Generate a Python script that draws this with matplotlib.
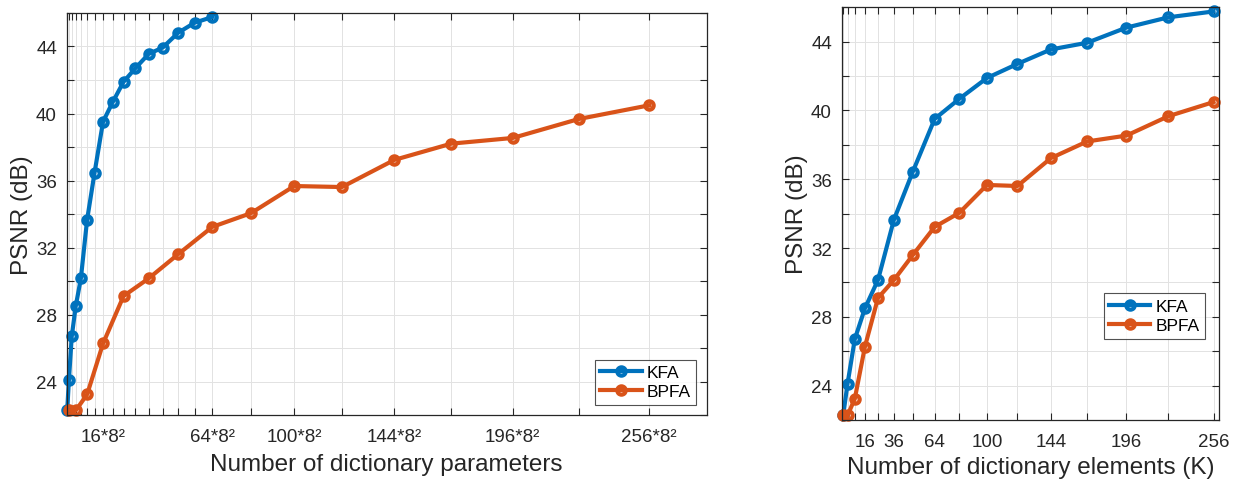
import matplotlib
matplotlib.use("Agg")
import matplotlib.pyplot as plt
import numpy as np

plt.rcParams['font.family'] = ['Liberation Sans', 'DejaVu Sans']

# dictionary sizes (number of atoms K)
K = [1, 4, 9, 16, 25, 36, 49, 64, 81, 100, 121, 144, 169, 196, 225, 256]
kfa_psnr = [22.27, 24.1, 26.7, 28.5, 30.15, 33.66, 36.45, 39.51, 40.68,
            41.89, 42.71, 43.55, 43.94, 44.82, 45.42, 45.76]
bpfa_psnr = [22.27, 22.27, 23.23, 26.27, 29.1, 30.15, 31.6, 33.23, 34.05,
             35.67, 35.61, 37.23, 38.2, 38.54, 39.67, 40.49]

# parameters per atom: KFA stores 2 factors of 8, BPFA a full 8x8 atom
kfa_per_atom = 16
bpfa_per_atom = 64

left_labels = ['16*8²', '64*8²', '100*8²', '144*8²', '196*8²', '256*8²']
left_label_K = [16, 64, 100, 144, 196, 256]
right_labels = ['16', '36', '64', '100', '144', '196', '256']
yticks = [24, 28, 32, 36, 40, 44]

blue = '#0072BD'
orange = '#D95319'
dark = '#262626'

fig = plt.figure(figsize=(12.34, 4.81), dpi=100)
ax1 = fig.add_axes([0.054, 0.1351, 0.5187, 0.8358])
ax2 = fig.add_axes([0.6821, 0.1247, 0.306, 0.858])

kfa_x = np.array(K) * kfa_per_atom
bpfa_x = np.array(K) * bpfa_per_atom

line_kw = dict(marker='o', lw=3, ms=6, mew=3, mfc='none', clip_on=False)


def style(ax, xt, xl, xlim):
    ax.set_xticks(xt)
    ax.set_xticklabels(xl)
    ax.set_xlim(*xlim)
    ax.set_ylim(22, 46)
    ax.set_yticks(np.arange(22, 47, 2))
    ax.set_yticklabels([str(v) if v in yticks else '' for v in np.arange(22, 47, 2)])
    ax.grid(True, color='#e2e2e2', lw=0.7)
    ax.set_axisbelow(True)
    ax.tick_params(direction='in', top=True, right=True, length=5, width=0.8,
                   color=dark, labelcolor=dark, labelsize=13.5, pad=7)
    ax.tick_params(axis='x', pad=9)
    for s in ax.spines.values():
        s.set_color(dark)
        s.set_linewidth(0.9)
    ax.set_ylabel('PSNR (dB)', fontsize=17.5, color=dark, labelpad=2)


ax1.plot(kfa_x, kfa_psnr, color=blue, label='KFA', **line_kw)
ax1.plot(bpfa_x, bpfa_psnr, color=orange, label='BPFA', **line_kw)
ticks1 = sorted(set(kfa_x.tolist()) | set(bpfa_x.tolist()))
lab1 = []
for t in ticks1:
    k = t // bpfa_per_atom
    if t % bpfa_per_atom == 0 and k in left_label_K:
        lab1.append(left_labels[left_label_K.index(k)])
    else:
        lab1.append('')
style(ax1, ticks1, lab1, (0, 18000))
ax1.set_xlabel('Number of dictionary parameters', fontsize=17.5, color=dark, labelpad=6)
leg1 = ax1.legend(loc='lower right', fontsize=12.5, handlelength=2.4, fancybox=False,
                  edgecolor=dark, borderaxespad=0.6, handletextpad=0.3,
                  borderpad=0.3, labelspacing=0.25)
leg1.get_frame().set_linewidth(0.8)

ax2.plot(K, kfa_psnr, color=blue, label='KFA', **line_kw)
ax2.plot(K, bpfa_psnr, color=orange, label='BPFA', **line_kw)
lab2 = [str(k) if str(k) in right_labels else '' for k in K]
style(ax2, K, lab2, (0, 260))
ax2.set_xlabel('Number of dictionary elements (K)', fontsize=17.5, color=dark, labelpad=5)
leg2 = ax2.legend(loc='center right', bbox_to_anchor=(0.985, 0.252), fontsize=12.5,
                  handlelength=2.4, fancybox=False, edgecolor=dark,
                  handletextpad=0.3, borderpad=0.3, labelspacing=0.25)
leg2.get_frame().set_linewidth(0.8)

fig.savefig('out.png', dpi=100)
